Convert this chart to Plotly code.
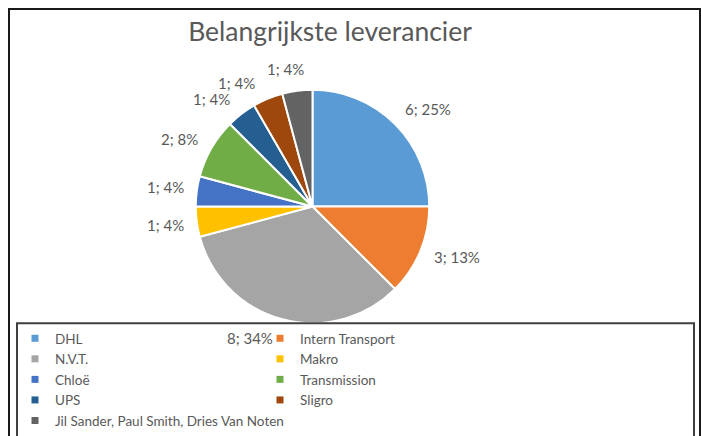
import math
import plotly.graph_objects as go

labels = ["DHL", "Intern Transport", "N.V.T.", "Makro", "Chloë", "Transmission",
          "UPS", "Sligro", "Jil Sander, Paul Smith, Dries Van Noten"]
values = [6, 3, 8, 1, 1, 2, 1, 1, 1]
pct_labels = ["25%", "13%", "34%", "4%", "4%", "8%", "4%", "4%", "4%"]
colors = ["#5B9BD5", "#ED7D31", "#A5A5A5", "#FFC000", "#4472C4", "#70AD47",
          "#255E91", "#9E480E", "#636363"]
title = "Belangrijkste leverancier"

W, H = 701, 436
FONT = "Lato, 'Open Sans', sans-serif"
GREY = "#595959"

def px_x(p):
    return p / W

def px_y(p):
    return 1 - p / H

# pie geometry (pixels)
CX, CY, R = 312.5, 207.0, 115.0
# "best fit" style angular nudges of the outside data labels (degrees)
label_nudge = [4.6, -3.2, 10.5, 0.5, 0.1, -3.0, -5.8, -9.0, -3.5]

fig = go.Figure()
fig.add_trace(go.Pie(
    labels=labels, values=values, customdata=pct_labels,
    sort=False, direction="clockwise", rotation=0,
    marker=dict(colors=colors, line=dict(color="white", width=2)),
    textinfo="none",
    domain=dict(x=[px_x(CX - R - 2), px_x(CX + R + 2)],
                y=[px_y(CY + R + 2), px_y(CY - R - 2)]),
    showlegend=False, hoverinfo="label+value+percent",
))

# data labels outside the slices, positioned from the slice mid-angles
total = sum(values)
cum = 0
annotations = []
for v, p, nd in zip(values, pct_labels, label_nudge):
    mid = (cum + v / 2) / total * 2 * math.pi + math.radians(nd)
    cum += v
    s, c = math.sin(mid), -math.cos(mid)
    txt = f"{v}; {p}"
    tw, th = len(txt) * 7.8, 17
    d = R + 13 + abs(s) * tw / 2 + abs(c) * th / 2
    annotations.append(dict(
        x=px_x(CX + d * s), y=px_y(CY + d * c), xref="paper", yref="paper",
        text=txt, showarrow=False, xanchor="center", yanchor="middle",
        font=dict(family=FONT, size=15, color=GREY)))

for name, col in zip(labels, colors):
    fig.add_trace(go.Scatter(
        x=[None], y=[None], mode="markers", name=name,
        marker=dict(symbol="square", size=7, color=col),
        showlegend=True,
    ))

fig.update_layout(
    width=W, height=H,
    margin=dict(l=0, r=0, t=0, b=0),
    paper_bgcolor="white", plot_bgcolor="white",
    title=dict(text=title, x=330 / W, xanchor="center", y=px_y(32), yanchor="middle",
               font=dict(family=FONT, size=26.5, color=GREY)),
    xaxis=dict(visible=False), yaxis=dict(visible=False),
    legend=dict(orientation="h", x=px_x(15), xanchor="left", y=px_y(324), yanchor="top",
                entrywidth=200, entrywidthmode="pixels", tracegroupgap=0,
                font=dict(family=FONT, size=13.5, color=GREY),
                bgcolor="rgba(0,0,0,0)", itemwidth=30),
    annotations=annotations,
    shapes=[
        dict(type="rect", xref="paper", yref="paper",
             x0=px_x(9), x1=px_x(700), y0=px_y(440), y1=px_y(9),
             line=dict(color="#1a1a1a", width=2), layer="above"),
        dict(type="rect", xref="paper", yref="paper",
             x0=px_x(17), x1=px_x(694), y0=px_y(440), y1=px_y(324),
             line=dict(color="#404040", width=2), layer="above"),
    ],
)

fig.write_html("out.html", config={"displayModeBar": False},
               post_script="document.body.style.margin='0';")
